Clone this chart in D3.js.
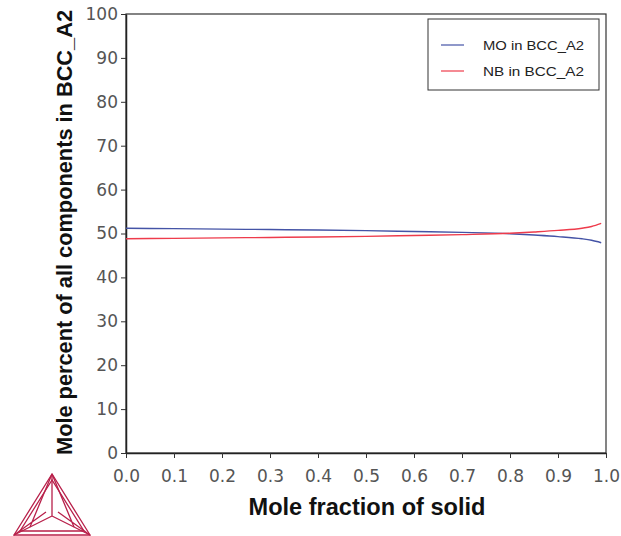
<!DOCTYPE html>
<html>
<head>
<meta charset="utf-8">
<script src="https://cdn.jsdelivr.net/npm/d3@7"></script>
<style>
  body { margin: 0; background: #fff; }
  svg { font-family: "Liberation Sans", Arial, sans-serif; }
</style>
</head>
<body>
<svg id="grafico"></svg>
<script>
// dados
let fracaoSolido = [0, 0.1, 0.2, 0.3, 0.4, 0.5, 0.6, 0.7, 0.8, 0.85, 0.9, 0.95, 0.97, 0.99]
let moBCC = [51.2, 51.1, 51.0, 50.9, 50.8, 50.65, 50.45, 50.25, 49.95, 49.65, 49.3, 48.8, 48.45, 47.9]
let nbBCC = [48.8, 48.9, 49.0, 49.1, 49.2, 49.35, 49.55, 49.75, 50.05, 50.35, 50.7, 51.2, 51.6, 52.3]
let series = [
  {nome: 'MO in BCC_A2', valores: moBCC, cor: '#4453a6'},
  {nome: 'NB in BCC_A2', valores: nbBCC, cor: '#ee3b4b'}
]
let ticksX = [0, 0.1, 0.2, 0.3, 0.4, 0.5, 0.6, 0.7, 0.8, 0.9, 1.0]
let ticksY = [0, 10, 20, 30, 40, 50, 60, 70, 80, 90, 100]

let largura = 621, altura = 536
let margens = {esquerda: 126, direita: 15, superior: 14, inferior: 83}
let lp = largura - margens.esquerda - margens.direita
let ap = altura - margens.superior - margens.inferior

let svg = d3.select('#grafico').attr('width', largura).attr('height', altura)
let plot = svg.append('g').attr('transform', 'translate(' + margens.esquerda + ',' + margens.superior + ')')

let fnX = d3.scaleLinear().domain([0, 1]).range([0, lp])
let fnY = d3.scaleLinear().domain([0, 100]).range([ap, 0])

// moldura
plot.append('rect').attr('width', lp).attr('height', ap)
  .attr('fill', 'none').attr('stroke', '#333').attr('stroke-width', 1.2)

let eixoX = plot.append('g').attr('transform', 'translate(0,' + ap + ')')
  .call(d3.axisBottom(fnX).tickValues(ticksX).tickFormat(d3.format('.1f')).tickSize(5).tickSizeOuter(0))
let eixoY = plot.append('g')
  .call(d3.axisLeft(fnY).tickValues(ticksY).tickSize(5).tickSizeOuter(0))
;[eixoX, eixoY].forEach(e => {
  e.select('.domain').attr('stroke', '#222').attr('stroke-width', 1.5)
  e.selectAll('.tick line').attr('stroke', '#333')
  e.selectAll('.tick text').attr('fill', '#555').style('font-size', '17px')
    .style('font-family', '"DejaVu Sans", Verdana, sans-serif')
})
eixoX.selectAll('.tick text').attr('dy', '1.24em')
eixoY.selectAll('.tick text').attr('x', -8)

// curvas
let linha = d3.line().x((d, i) => fnX(fracaoSolido[i])).y(d => fnY(d)).curve(d3.curveMonotoneX)
plot.selectAll('.curva').data(series).enter().append('path')
  .attr('class', 'curva')
  .attr('d', d => linha(d.valores))
  .attr('fill', 'none').attr('stroke', d => d.cor).attr('stroke-width', 1.4)

// legenda
let leg = svg.append('g').attr('transform', 'translate(428,19)')
leg.append('rect').attr('width', 171).attr('height', 71)
  .attr('fill', '#fff').attr('stroke', '#333').attr('stroke-width', 1)
series.forEach((s, i) => {
  let y = 26 + i * 26
  leg.append('line').attr('x1', 13).attr('x2', 36).attr('y1', y).attr('y2', y)
    .attr('stroke', s.cor).attr('stroke-width', 1.2)
  leg.append('text').attr('x', 55).attr('y', y + 4.5).text(s.nome)
    .style('font-size', '12.5px').attr('fill', '#222')
    .attr('textLength', 101).attr('lengthAdjust', 'spacingAndGlyphs')
})

// títulos
svg.append('text').attr('x', 367).attr('y', 515)
  .attr('text-anchor', 'middle').style('font-size', '23px').style('font-weight', 'bold')
  .attr('textLength', 237).attr('lengthAdjust', 'spacingAndGlyphs')
  .attr('fill', '#111').text('Mole fraction of solid')
svg.append('text').attr('transform', 'translate(72,232.5) rotate(-90)')
  .attr('text-anchor', 'middle').style('font-size', '22px').style('font-weight', 'bold')
  .attr('textLength', 445).attr('lengthAdjust', 'spacingAndGlyphs')
  .attr('fill', '#111').text('Mole percent of all components in BCC_A2')

// logo
let logo = svg.append('g').attr('fill', 'none').attr('stroke', '#b8204a').attr('stroke-width', 1.3)
let A = [52, 474], B = [14, 535], C = [90, 535], O = [52, 516]
let tri = (p, q, r) => 'M' + p + 'L' + q + 'L' + r + 'Z'
logo.append('path').attr('d', tri(A, B, C))
logo.append('path').attr('d', tri([52, 480], [20, 531], [84, 531]))
logo.append('path').attr('d', 'M' + A + 'L' + O + 'M' + B + 'L' + O + 'M' + C + 'L' + O)
logo.append('path').attr('d', 'M52,474L30,527M52,474L74,527M14,535L46,512M90,535L58,512')
</script>
</body>
</html>
